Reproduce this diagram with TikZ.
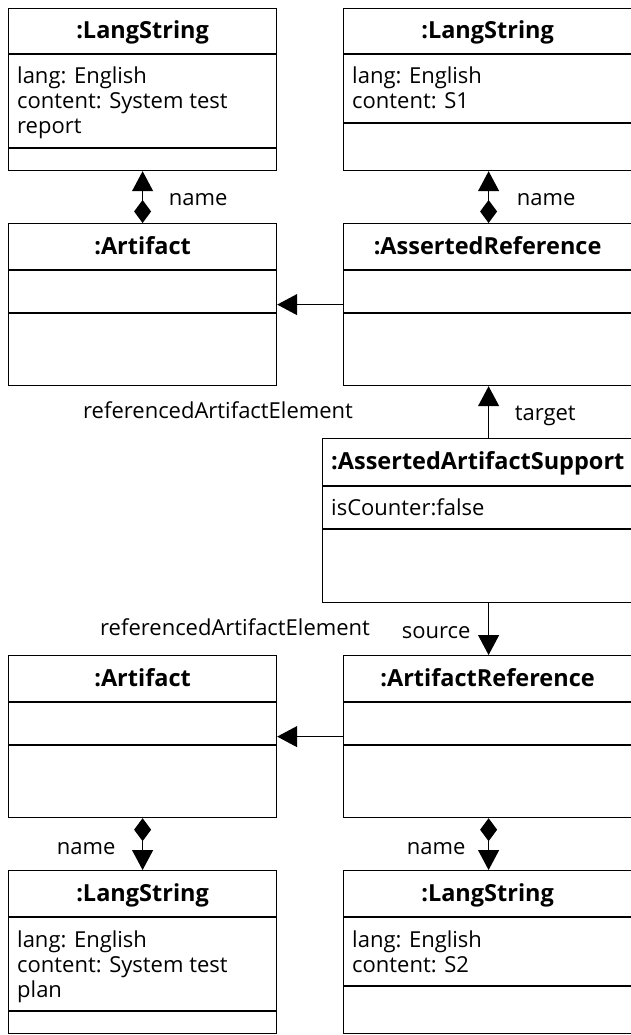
\documentclass[tikz,border=0pt]{standalone}
\usepackage{fontspec}
\setmainfont{Open Sans}
\usetikzlibrary{positioning,calc,arrows.meta}

\begin{document}
\begin{tikzpicture}[x=1pt, y=-1pt,
    font=\fontsize{22}{25}\selectfont,
    object/.style={rectangle, draw=black, line width=1.2pt, anchor=north west, inner sep=0pt, minimum height=162pt},
    heading/.style={anchor=base, inner sep=0pt, font=\fontsize{23.5}{25}\selectfont\bfseries},
    slot/.style={anchor=base west, align=left, inner sep=0pt},
    divider/.style={draw=black, line width=1.2pt},
    role/.style={inner sep=0pt},
    link/.style={line width=1.2pt, -{Triangle[length=20pt,width=21pt]}},
    owns/.style={line width=1.2pt, {Diamond[length=23pt,width=17pt]}-{Triangle[length=20pt,width=21pt]}}
]
    \useasboundingbox (0,0) rectangle (631,1035);

    % top row
    \node[object, minimum width=268pt] (nameA) at (8,8) {};
    \node[heading] (nameA-title) at ($(nameA.north)+(0,31)$) {:LangString};
    \draw[divider] ($(nameA.north west)+(0,46)$) -- ($(nameA.north east)+(0,46)$);
    \node[slot] (nameA-attr) at ($(nameA.north west)+(9,126)$) {lang: English\\content: System test\\report};
    \draw[divider] ($(nameA.north west)+(0,140)$) -- ($(nameA.north east)+(0,140)$);

    \node[object, minimum width=290pt] (nameB) at (343,8) {};
    \node[heading] (nameB-title) at ($(nameB.north)+(-1,31)$) {:LangString};
    \draw[divider] ($(nameB.north west)+(0,46)$) -- ($(nameB.north east)+(0,46)$);
    \node[slot] (nameB-attr) at ($(nameB.north west)+(9,101)$) {lang: English\\content: S1};
    \draw[divider] ($(nameB.north west)+(0,115)$) -- ($(nameB.north east)+(0,115)$);

    % artifact and reference
    \node[object, minimum width=268pt] (artA) at (8,223) {};
    \node[heading] (artA-title) at ($(artA.north)+(0,31)$) {:Artifact};
    \draw[divider] ($(artA.north west)+(0,47)$) -- ($(artA.north east)+(0,47)$);
    \draw[divider] ($(artA.north west)+(0,90)$) -- ($(artA.north east)+(0,90)$);

    \node[object, minimum width=290pt] (aref) at (343,223) {};
    \node[heading] (aref-title) at ($(aref.north)+(-1,31)$) {:AssertedReference};
    \draw[divider] ($(aref.north west)+(0,47)$) -- ($(aref.north east)+(0,47)$);
    \draw[divider] ($(aref.north west)+(0,90)$) -- ($(aref.north east)+(0,90)$);

    % support
    \node[object, minimum width=311pt, minimum height=164pt] (aas) at (322,438) {};
    \node[heading, anchor=base west] (aas-title) at ($(aas.north west)+(9,31)$) {:AssertedArtifactSupport};
    \draw[divider] ($(aas.north west)+(0,48)$) -- ($(aas.north east)+(0,48)$);
    \node[slot] (aas-attr) at ($(aas.north west)+(9,77)$) {isCounter:false};
    \draw[divider] ($(aas.north west)+(0,91)$) -- ($(aas.north east)+(0,91)$);

    % artifact and artifact reference
    \node[object, minimum width=268pt] (artB) at (8,655) {};
    \node[heading] (artB-title) at ($(artB.north)+(0,31)$) {:Artifact};
    \draw[divider] ($(artB.north west)+(0,47)$) -- ($(artB.north east)+(0,47)$);
    \draw[divider] ($(artB.north west)+(0,90)$) -- ($(artB.north east)+(0,90)$);

    \node[object, minimum width=290pt] (artref) at (343,655) {};
    \node[heading] (artref-title) at ($(artref.north)+(-1,31)$) {:ArtifactReference};
    \draw[divider] ($(artref.north west)+(0,47)$) -- ($(artref.north east)+(0,47)$);
    \draw[divider] ($(artref.north west)+(0,90)$) -- ($(artref.north east)+(0,90)$);

    % bottom row
    \node[object, minimum width=268pt, minimum height=163pt] (nameC) at (8,870) {};
    \node[heading] (nameC-title) at ($(nameC.north)+(0,31)$) {:LangString};
    \draw[divider] ($(nameC.north west)+(0,47)$) -- ($(nameC.north east)+(0,47)$);
    \node[slot] (nameC-attr) at ($(nameC.north west)+(9,127)$) {lang: English\\content: System test\\plan};
    \draw[divider] ($(nameC.north west)+(0,141)$) -- ($(nameC.north east)+(0,141)$);

    \node[object, minimum width=290pt, minimum height=163pt] (nameD) at (343,870) {};
    \node[heading] (nameD-title) at ($(nameD.north)+(-1,31)$) {:LangString};
    \draw[divider] ($(nameD.north west)+(0,47)$) -- ($(nameD.north east)+(0,47)$);
    \node[slot] (nameD-attr) at ($(nameD.north west)+(9,102)$) {lang: English\\content: S2};
    \draw[divider] ($(nameD.north west)+(0,116)$) -- ($(nameD.north east)+(0,116)$);

    % connectors
    \draw[owns] (artA.north) -- (nameA.south);
    \draw[owns] (aref.north) -- (nameB.south);
    \draw[link] (aref.west) -- (artA.east);
    \draw[link] (aas.north -| aref.south) -- (aref.south);
    \draw[link] (aas.south -| artref.north) -- (artref.north);
    \draw[link] (artref.west) -- (artB.east);
    \draw[owns] (artB.south) -- (nameC.north);
    \draw[owns] (artref.south) -- (nameD.north);

    % roles
    \node[role, anchor=base west] (nameA-role) at ($(artA.north)+(26,-18)$) {name};
    \node[role, anchor=base west] (nameB-role) at ($(aref.north)+(28,-18)$) {name};
    \node[role, anchor=base west] (refA-role) at ($(artA.south west)+(75,32)$) {referencedArtifactElement};
    \node[role, anchor=base west] (target-role) at ($(aref.south)+(26,34)$) {target};
    \node[role, anchor=base west] (refB-role) at ($(artB.north west)+(92,-20)$) {referencedArtifactElement};
    \node[role, anchor=base east] (source-role) at ($(artref.north)+(-18,-17)$) {source};
    \node[role, anchor=base east] (nameC-role) at ($(artB.south)+(-27,36)$) {name};
    \node[role, anchor=base east] (nameD-role) at ($(artref.south)+(-23,36)$) {name};
\end{tikzpicture}
\end{document}
